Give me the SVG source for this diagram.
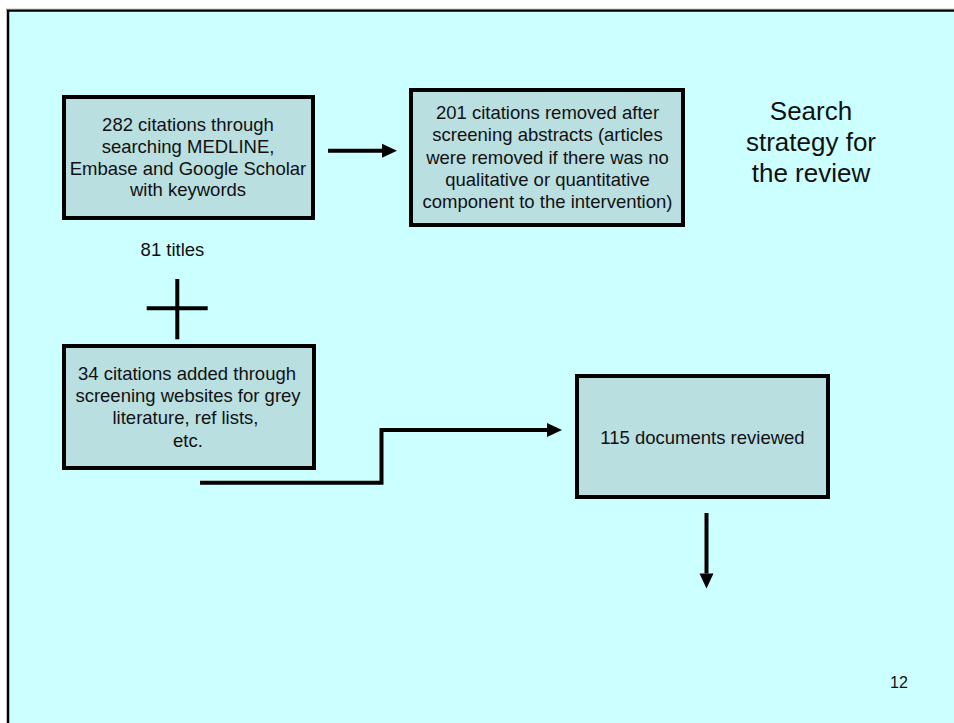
<svg xmlns="http://www.w3.org/2000/svg" width="954" height="723" viewBox="0 0 954 723">
<style>
.frame{fill:#CCFFFF;stroke:#000;stroke-width:2.5}
.box{fill:#B9DFE1;stroke:#000;stroke-width:4}
.t{font-family:"Liberation Sans",Arial,sans-serif;font-size:18.5px;fill:#111;text-anchor:middle}
.title{font-family:"Liberation Sans",Arial,sans-serif;font-size:26px;fill:#111;text-anchor:middle}
.pg{font-family:"Liberation Sans",Arial,sans-serif;font-size:16px;fill:#111;text-anchor:middle}
.c{fill:none;stroke:#000;stroke-width:4}
</style>
<defs>
<marker id="ah" markerUnits="userSpaceOnUse" markerWidth="15" markerHeight="14" refX="0" refY="7" orient="auto" overflow="visible">
<path d="M0,0 L15,7 L0,14 z" fill="#000"/>
</marker>
</defs>
<rect width="954" height="723" fill="#fff"/>
<rect class="frame" x="8" y="10.5" width="960" height="730"/>
<line x1="6" y1="9.3" x2="954" y2="9.3" stroke="#777" stroke-width="1"/>
<text class="title" x="811" y="120">Search</text>
<text class="title" x="811" y="151">strategy for</text>
<text class="title" x="811" y="182">the review</text>
<text class="pg" x="899" y="688">12</text>
<text class="t" x="172.5" y="255.5">81 titles</text>
<g id="n1">
<rect class="box" x="64" y="97" width="249" height="121"/>
<text class="t" x="188" y="131">282 citations through</text>
<text class="t" x="188" y="152.7">searching MEDLINE,</text>
<text class="t" x="188" y="174.5">Embase and Google Scholar</text>
<text class="t" x="188" y="196.3">with keywords</text>
</g>
<g id="n2">
<rect class="box" x="411" y="90" width="272" height="135"/>
<text class="t" x="547.5" y="119.3">201 citations removed after</text>
<text class="t" x="547.5" y="141.3">screening abstracts (articles</text>
<text class="t" x="547.5" y="163.5">were removed if there was no</text>
<text class="t" x="547.5" y="185.7">qualitative or quantitative</text>
<text class="t" x="547.5" y="208">component to the intervention)</text>
</g>
<g id="n3">
<rect class="box" x="64" y="346" width="250" height="122"/>
<text class="t" x="187" y="380">34 citations added through</text>
<text class="t" x="188" y="402.3">screening websites for grey</text>
<text class="t" x="185.5" y="424.3">literature, ref lists,</text>
<text class="t" x="188" y="446.7">etc.</text>
</g>
<g id="n4">
<rect class="box" x="577" y="376" width="251" height="121"/>
<text class="t" x="702.5" y="444">115 documents reviewed</text>
</g>
<g id="connectors">
<line class="c" x1="328" y1="150.7" x2="382" y2="150.7" marker-end="url(#ah)"/>
<line class="c" x1="177.3" y1="279" x2="177.3" y2="339.3"/>
<line class="c" x1="146.7" y1="308.3" x2="207.7" y2="308.3"/>
<polyline class="c" points="200,482.7 381.5,482.7 381.5,430 547,430" marker-end="url(#ah)"/>
<line class="c" x1="706.5" y1="513" x2="706.5" y2="573.5" marker-end="url(#ah)"/>
</g>
</svg>
